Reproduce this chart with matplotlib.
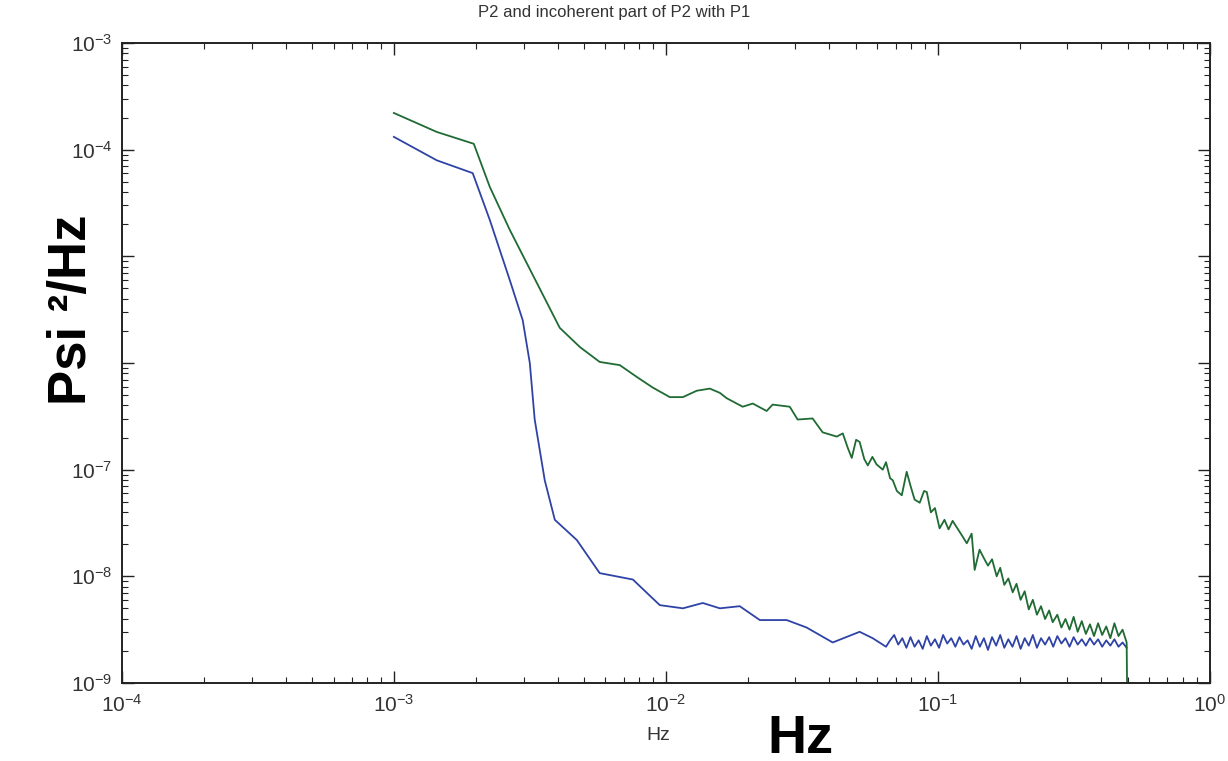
#!/usr/bin/env python3
import numpy as np
import matplotlib
matplotlib.use('Agg')
import matplotlib.pyplot as plt
from matplotlib.ticker import LogLocator, LogFormatterSciNotation

'''
P2 spectrum and the part of P2 that is incoherent with P1 (log-log PSD)
'''

# log10 of frequency (Hz) and log10 of PSD (Psi^2/Hz)
p2_logf = [-3.0, -2.842, -2.706, -2.647, -2.574, -2.474, -2.39, -2.316, -2.243, -2.169,
           -2.107, -2.048, -1.985, -1.937, -1.886, -1.838, -1.801, -1.776, -1.717, -1.68,
           -1.629, -1.607, -1.544, -1.515, -1.46, -1.423, -1.371,
           -1.349, -1.33, -1.316, -1.30, -1.287, -1.27, -1.257, -1.24, -1.225, -1.202,
           -1.19, -1.175, -1.165, -1.15, -1.132, -1.114, -1.10, -1.085, -1.066, -1.05,
           -1.04, -1.025, -1.01, -0.993, -0.975, -0.96, -0.945, -0.930, -0.91, -0.893,
           -0.875, -0.864, -0.846, -0.83, -0.815, -0.80, -0.783, -0.77, -0.755, -0.74,
           -0.724, -0.71, -0.695, -0.68, -0.665, -0.65, -0.635, -0.62, -0.605, -0.59,
           -0.577, -0.56, -0.545, -0.53, -0.515, -0.50, -0.485, -0.47, -0.455, -0.44,
           -0.425, -0.41, -0.395, -0.38, -0.365, -0.35, -0.335, -0.32, -0.305, -0.3011]
p2_logp = [-3.656, -3.834, -3.945, -4.35, -4.75, -5.25, -5.67, -5.85, -5.99, -6.02,
           -6.13, -6.23, -6.32, -6.32, -6.26, -6.24, -6.28, -6.33, -6.41, -6.38,
           -6.45, -6.39, -6.41, -6.53, -6.52, -6.65, -6.69,
           -6.66, -6.80, -6.89, -6.72, -6.74, -6.90, -6.96, -6.88, -6.95, -7.00,
           -6.93, -7.08, -7.10, -7.20, -7.24, -7.02, -7.15, -7.28, -7.31, -7.20,
           -7.21, -7.40, -7.36, -7.55, -7.47, -7.56, -7.48, -7.54, -7.62, -7.69,
           -7.60, -7.94, -7.75, -7.83, -7.90, -7.84, -8.00, -7.92, -8.08, -8.02,
           -8.15, -8.07, -8.22, -8.14, -8.31, -8.22, -8.36, -8.28, -8.40, -8.32,
           -8.43, -8.36, -8.48, -8.40, -8.50, -8.38, -8.52, -8.42, -8.54, -8.45,
           -8.56, -8.44, -8.55, -8.47, -8.58, -8.44, -8.56, -8.50, -8.62, -9.6]

incoh_logf = [-3.0, -2.842, -2.71, -2.647, -2.574, -2.526, -2.50, -2.482, -2.445, -2.408,
              -2.327, -2.243, -2.121, -2.022, -1.937, -1.864, -1.801, -1.728, -1.654, -1.555,
              -1.482, -1.386, -1.287, -1.239, -1.19,
              -1.175, -1.16, -1.145, -1.13, -1.115, -1.10, -1.085, -1.07, -1.055, -1.04,
              -1.025, -1.01, -0.995, -0.98, -0.965, -0.95, -0.935, -0.92, -0.905, -0.89,
              -0.875, -0.86, -0.845, -0.83, -0.815, -0.80, -0.785, -0.77, -0.755, -0.74,
              -0.725, -0.71, -0.695, -0.68, -0.665, -0.65, -0.635, -0.62, -0.605, -0.59,
              -0.575, -0.56, -0.545, -0.53, -0.515, -0.50, -0.485, -0.47, -0.455, -0.44,
              -0.425, -0.41, -0.395, -0.38, -0.365, -0.35, -0.335, -0.32, -0.305]
incoh_logp = [-3.88, -4.10, -4.22, -4.66, -5.22, -5.60, -6.00, -6.53, -7.10, -7.47,
              -7.66, -7.97, -8.03, -8.27, -8.30, -8.25, -8.30, -8.28, -8.41, -8.41,
              -8.48, -8.62, -8.52, -8.58, -8.66,
              -8.60, -8.55, -8.64, -8.58, -8.67, -8.57, -8.66, -8.60, -8.68, -8.56,
              -8.65, -8.59, -8.67, -8.55, -8.63, -8.58, -8.66, -8.57, -8.64, -8.60,
              -8.68, -8.56, -8.66, -8.58, -8.69, -8.57, -8.65, -8.55, -8.67, -8.59,
              -8.66, -8.56, -8.68, -8.58, -8.65, -8.55, -8.67, -8.58, -8.64, -8.57,
              -8.66, -8.56, -8.63, -8.58, -8.66, -8.57, -8.64, -8.59, -8.65, -8.58,
              -8.64, -8.59, -8.66, -8.60, -8.65, -8.59, -8.66, -8.62, -8.67]

# the 10^-5 and 10^-6 labels are hidden behind the big y label in the original
y_hidden_labels = [1e-5, 1e-6]

plt.rcParams['font.family'] = ['Liberation Sans', 'DejaVu Sans']
plt.rcParams['mathtext.default'] = 'regular'

fig = plt.figure(figsize=(12.28, 7.61), dpi=100)
ax = fig.add_axes([0.0993, 0.1025, 0.8857, 0.841])

f1 = 10 ** np.array(p2_logf)
p1 = 10 ** np.array(p2_logp)
f2 = 10 ** np.array(incoh_logf)
p2 = 10 ** np.array(incoh_logp)

ax.plot(f2, p2, color='#2f43a6', lw=1.3)
ax.plot(f1, p1, color='#1f6b33', lw=1.3)

ax.set_xscale('log')
ax.set_yscale('log')
ax.set_xlim(1e-4, 1e0)
ax.set_ylim(1e-9, 1e-3)

ax.xaxis.set_major_locator(LogLocator(base=10, numticks=10))
ax.yaxis.set_major_locator(LogLocator(base=10, numticks=10))
ax.xaxis.set_minor_locator(LogLocator(base=10, subs=np.arange(2, 10), numticks=20))
ax.yaxis.set_minor_locator(LogLocator(base=10, subs=np.arange(2, 10), numticks=20))

sci = LogFormatterSciNotation()
def ylab(v, pos):
    if any(abs(np.log10(v) - np.log10(h)) < 0.01 for h in y_hidden_labels):
        return ''
    return sci(v, pos)
ax.yaxis.set_major_formatter(plt.FuncFormatter(ylab))

ax.tick_params(which='both', direction='in', top=True, right=True, colors='#222222',
               labelsize=15, labelcolor='#333333')
ax.tick_params(which='major', length=8.5, width=1.0)
ax.tick_params(axis='y', which='major', pad=7)
ax.tick_params(axis='x', which='major', pad=8)
ax.tick_params(which='minor', length=4.5, width=0.8)
for s in ax.spines.values():
    s.set_linewidth(1.4)
    s.set_color('#222222')

fig.text(0.5, 0.983, 'P2 and incoherent part of P2 with P1', ha='center', va='center',
         fontsize=12, color='#333333')
fig.text(658 / 1228, 1 - 735 / 761, 'Hz', ha='center', va='center', fontsize=14, color='#333333')
fig.text(800 / 1228, 1 - 753 / 761, 'Hz', ha='center', va='baseline', fontsize=39,
         fontweight='bold', color='black')
fig.text(72 / 1228, 1 - 310 / 761, 'Psi \u00b2/Hz', ha='center', va='center', rotation=90,
         fontsize=38, fontweight='bold', color='black')

fig.savefig('out.png', dpi=100)
